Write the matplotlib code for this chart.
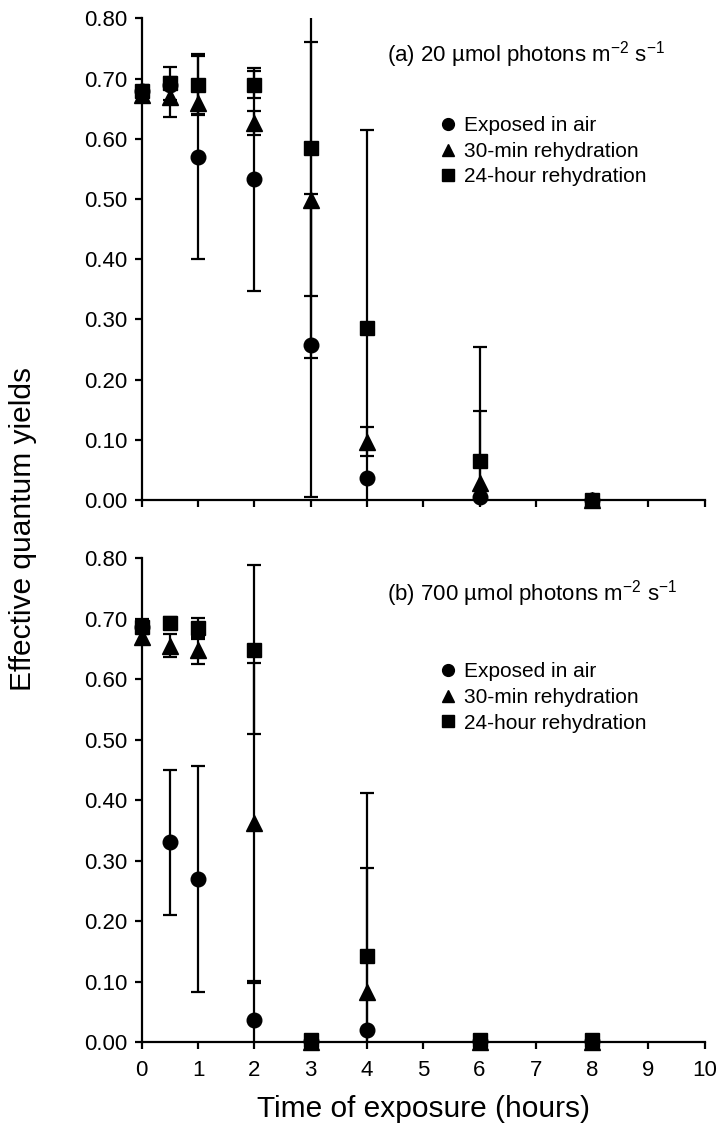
import matplotlib
matplotlib.use('Agg')
import matplotlib.pyplot as plt
from matplotlib.lines import Line2D

plt.rcParams['font.family'] = ['Liberation Sans', 'DejaVu Sans']
plt.rcParams['mathtext.fontset'] = 'custom'
plt.rcParams['mathtext.rm'] = 'Liberation Sans'
plt.rcParams['mathtext.it'] = 'Liberation Sans'

# exposure times (hours)
times = [0, 0.5, 1, 2, 3, 4, 6, 8]

# (a) 20 umol photons
air_a = [0.680, 0.690, 0.570, 0.533, 0.257, 0.036, 0.005, 0.0]
air_a_err = [0.0, 0.0, 0.17, 0.185, 0.252, 0.0, 0.0, 0.0]
tri_a = [0.672, 0.670, 0.659, 0.626, 0.498, 0.097, 0.028, 0.0]
tri_a_err = [0.01, 0.033, 0.02, 0.02, 0.262, 0.024, 0.12, 0.0]
sq_a = [0.680, 0.692, 0.689, 0.690, 0.585, 0.285, 0.065, 0.0]
sq_a_err = [0.01, 0.028, 0.048, 0.023, 0.246, 0.33, 0.19, 0.0]

# (b) 700 umol photons
air_b = [0.686, 0.330, 0.270, 0.036, 0.002, 0.020, 0.002, 0.002]
air_b_err = [0.0, 0.12, 0.187, 0.065, 0.0, 0.0, 0.0, 0.0]
tri_b = [0.670, 0.655, 0.648, 0.362, 0.0, 0.082, 0.0, 0.0]
tri_b_err = [0.01, 0.019, 0.022, 0.265, 0.0, 0.206, 0.0, 0.0]
sq_b = [0.687, 0.693, 0.684, 0.649, 0.004, 0.142, 0.004, 0.004]
sq_b_err = [0.012, 0.01, 0.017, 0.14, 0.0, 0.27, 0.0, 0.0]

labels = ['Exposed in air', '30-min rehydration', '24-hour rehydration']
markers = ['o', '^', 's']
msizes = [10.5, 11, 10.5]
yticks = [0, 0.1, 0.2, 0.3, 0.4, 0.5, 0.6, 0.7, 0.8]
xticks = list(range(11))

fig = plt.figure(figsize=(7.2, 11.27), dpi=100)
ax1 = fig.add_axes([0.1968, 0.5563, 0.782, 0.4274])
ax2 = fig.add_axes([0.1968, 0.0754, 0.782, 0.4292])


def draw_panel(ax, series, title, title_y, leg_y):
    for (vals, errs), m, ms in zip(series, markers, msizes):
        ax.errorbar(times, vals, yerr=errs, fmt='none', ecolor='black',
                    elinewidth=1.6, capsize=5, capthick=1.6)
        ax.plot(times, vals, linestyle='none', marker=m, markersize=ms,
                color='black', clip_on=False, zorder=5)
    ax.set_xlim(0, 10)
    ax.set_ylim(0, 0.8)
    ax.set_yticks(yticks)
    ax.set_yticklabels(['%.2f' % v for v in yticks])
    ax.set_xticks(xticks)
    for s in ['top', 'right']:
        ax.spines[s].set_visible(False)
    for s in ['left', 'bottom']:
        ax.spines[s].set_linewidth(1.6)
    ax.tick_params(axis='both', direction='out', length=5, width=1.6,
                   labelsize=16)
    ax.tick_params(axis='y', pad=5)
    ax.tick_params(axis='x', pad=8)
    ax.text(0.435, title_y, title, transform=ax.transAxes, fontsize=16,
            va='center', ha='left')
    handles = [Line2D([], [], linestyle='none', marker=m, color='black',
                      markersize=8.5) for m in markers]
    ax.legend(handles, labels, loc='upper left', bbox_to_anchor=(0.531, leg_y),
              frameon=False, fontsize=15, handlelength=0.75,
              handletextpad=0.35, labelspacing=0.32, borderpad=0,
              borderaxespad=0)


draw_panel(ax1, [(air_a, air_a_err), (tri_a, tri_a_err), (sq_a, sq_a_err)],
           r'(a) 20 µmol photons m$^{\mathregular{-2}}$ s$^{\mathregular{-1}}$',
           0.925, 0.797)
draw_panel(ax2, [(air_b, air_b_err), (tri_b, tri_b_err), (sq_b, sq_b_err)],
           r'(b) 700 µmol photons m$^{\mathregular{-2}}$ s$^{\mathregular{-1}}$',
           0.928, 0.785)
ax1.set_xticklabels([])

fig.text(0.032, 1 - 529 / 1127, 'Effective quantum yields', rotation=90,
         ha='center', va='center', fontsize=21.5)
fig.text((141.7 + 704.7) / 2 / 720, 1 - 1109 / 1127, 'Time of exposure (hours)',
         ha='center', va='center', fontsize=21.5)

fig.savefig('out.png', dpi=100)
